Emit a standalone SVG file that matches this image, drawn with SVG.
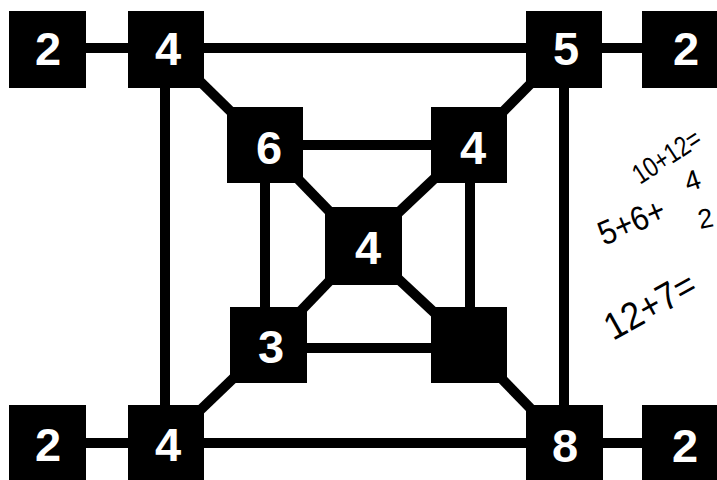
<svg xmlns="http://www.w3.org/2000/svg" width="717" height="480" viewBox="0 0 717 480">
<style>
.bg{fill:#ffffff}
.edge{stroke:#000;stroke-width:10;fill:none;stroke-linecap:butt}
.box{fill:#000}
.num{fill:#fff;font-family:"Liberation Sans",Arial,sans-serif;font-weight:bold;font-size:47px;text-anchor:middle}
.hand{fill:#000;font-family:"Liberation Sans",Arial,sans-serif;font-weight:normal}
</style>
<rect class="bg" x="0" y="0" width="717" height="480"/>
<g id="connectors">
  <line class="edge" x1="47" y1="48" x2="680" y2="48"/>
  <line class="edge" x1="47" y1="443" x2="680" y2="443"/>
  <line class="edge" x1="165" y1="48" x2="165" y2="443"/>
  <line class="edge" x1="564" y1="48" x2="564" y2="443"/>
  <line class="edge" x1="265" y1="145" x2="470" y2="145"/>
  <line class="edge" x1="268" y1="348" x2="469" y2="348"/>
  <line class="edge" x1="265" y1="145" x2="265" y2="345"/>
  <line class="edge" x1="470" y1="145" x2="470" y2="345"/>
  <line class="edge" x1="166" y1="48" x2="265" y2="145"/>
  <line class="edge" x1="265" y1="145" x2="363" y2="246"/>
  <line class="edge" x1="470" y1="145" x2="363" y2="246"/>
  <line class="edge" x1="470" y1="145" x2="564" y2="50"/>
  <line class="edge" x1="363" y1="246" x2="268" y2="345"/>
  <line class="edge" x1="363" y1="246" x2="469" y2="345"/>
  <line class="edge" x1="268" y1="345" x2="166" y2="443"/>
  <line class="edge" x1="469" y1="345" x2="564" y2="443"/>
</g>
<g id="n-top-2-left"><rect class="box" x="9" y="11" width="77" height="77"/><text class="num" x="48" y="65">2</text></g>
<g id="n-top-4"><rect class="box" x="128" y="11" width="76" height="77"/><text class="num" x="168" y="65">4</text></g>
<g id="n-top-5"><rect class="box" x="526" y="11" width="76" height="77"/><text class="num" x="566" y="65">5</text></g>
<g id="n-top-2-right"><rect class="box" x="642" y="11" width="76" height="77"/><text class="num" x="686" y="65">2</text></g>
<g id="n-6"><rect class="box" x="227" y="107" width="76" height="76"/><text class="num" x="269" y="164">6</text></g>
<g id="n-4-upper-right"><rect class="box" x="431" y="107" width="76" height="76"/><text class="num" x="473" y="164">4</text></g>
<g id="n-4-center"><rect class="box" x="325" y="207" width="77" height="78"/><text class="num" x="368" y="264">4</text></g>
<g id="n-3"><rect class="box" x="230" y="307" width="77" height="76"/><text class="num" x="271" y="363">3</text></g>
<g id="n-blank"><rect class="box" x="431" y="307" width="76" height="76"/></g>
<g id="n-bottom-2-left"><rect class="box" x="9" y="405" width="77" height="77"/><text class="num" x="48" y="461">2</text></g>
<g id="n-bottom-4"><rect class="box" x="128" y="405" width="76" height="77"/><text class="num" x="168" y="461">4</text></g>
<g id="n-8"><rect class="box" x="526" y="405" width="77" height="77"/><text class="num" x="565" y="462">8</text></g>
<g id="n-bottom-2-right"><rect class="box" x="642" y="405" width="76" height="77"/><text class="num" x="685" y="462">2</text></g>
<g id="handwriting">
  <text class="hand" font-size="28" transform="translate(640,185) rotate(-33) scale(0.8,1)">10+12=</text>
  <text class="hand" font-size="34" transform="translate(604,246) rotate(-23) scale(0.9,1)">5+6+</text>
  <text class="hand" font-size="28" transform="translate(688,192) rotate(-18)">4</text>
  <text class="hand" font-size="27" transform="translate(700,229) rotate(-12)">2</text>
  <text class="hand" font-size="38" transform="translate(613,341) rotate(-29) scale(0.92,1)">12+7=</text>
</g>
</svg>
